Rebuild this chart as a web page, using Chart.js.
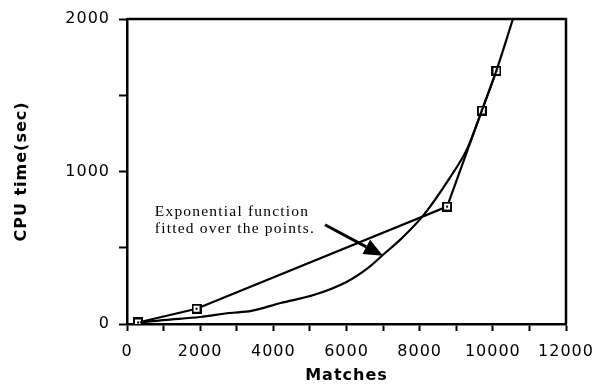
<!DOCTYPE html>
<html>
<head>
<meta charset="utf-8">
<script src="https://cdn.jsdelivr.net/npm/chart.js@4/dist/chart.umd.min.js"></script>
<style>
  html, body { margin: 0; padding: 0; background: #fff; }
  #wrap { width: 596px; height: 385px; }
</style>
</head>
<body>
<div id="wrap"><canvas id="cpuChart" width="596" height="385"></canvas></div>
<script>
// measured points (squares)
const matches = [300, 1900, 8750, 9700, 10100];
const cpuTime = [10, 100, 770, 1400, 1660];

// exponential fit
const fitMatches = [350, 1000, 2000, 2800, 3400, 4200, 5100, 6000, 6600, 7000, 7500, 8100, 8800, 9300, 9700, 10100, 10550];
const fitCpu     = [10, 26, 46, 72, 86, 138, 190, 276, 370, 454, 560, 712, 950, 1150, 1400, 1664, 2000];

// axis setup
const xMax = 12000, xStep = 1000, xLabelEvery = 2000;
const yMax = 2000, yStep = 500, yLabelEvery = 1000;

// annotation (data coordinates)
const noteLines = ['Exponential function', 'fitted over the points.'];
const noteAt = [760, 711];
const arrowFrom = [5412, 651];
const arrowTo = [6998, 447];

// square marker with a dot in the middle
function squareMarker() {
  const c = document.createElement('canvas');
  c.width = 10; c.height = 10;
  const g = c.getContext('2d');
  g.fillStyle = '#000'; g.fillRect(0, 0, 10, 10);
  g.fillStyle = '#fff'; g.fillRect(2, 2, 6, 6);
  g.fillStyle = '#000'; g.fillRect(4, 4, 2, 2);
  return c;
}

const textPlugin = {
  id: 'spacing',
  beforeLayout(chart) { chart.ctx.letterSpacing = '1px'; },
  beforeDraw(chart) { chart.ctx.letterSpacing = '1px'; },
  afterDraw(chart) {
    const { ctx, chartArea: a, scales: { x, y } } = chart;
    ctx.save();
    // top and right frame
    ctx.strokeStyle = '#000';
    ctx.lineWidth = 2.5;
    ctx.beginPath();
    ctx.moveTo(a.left, a.top);
    ctx.lineTo(a.right, a.top);
    ctx.lineTo(a.right, a.bottom);
    ctx.stroke();

    // note text
    ctx.letterSpacing = '1.2px';
    ctx.font = '15.5px "Liberation Serif", "Times New Roman", serif';
    ctx.fillStyle = '#000';
    ctx.textBaseline = 'alphabetic';
    ctx.textAlign = 'left';
    const nx = x.getPixelForValue(noteAt[0]);
    const ny = y.getPixelForValue(noteAt[1]);
    noteLines.forEach((t, i) => ctx.fillText(t, nx, ny + i * 17));

    // arrow
    const x0 = x.getPixelForValue(arrowFrom[0]), y0 = y.getPixelForValue(arrowFrom[1]);
    const x1 = x.getPixelForValue(arrowTo[0]), y1 = y.getPixelForValue(arrowTo[1]);
    const ang = Math.atan2(y1 - y0, x1 - x0);
    const headLen = 19, headW = 8;
    const bx = x1 - headLen * Math.cos(ang), by = y1 - headLen * Math.sin(ang);
    ctx.lineWidth = 3;
    ctx.beginPath();
    ctx.moveTo(x0, y0);
    ctx.lineTo(bx, by);
    ctx.stroke();
    ctx.beginPath();
    ctx.moveTo(x1, y1);
    ctx.lineTo(bx + headW * Math.sin(ang), by - headW * Math.cos(ang));
    ctx.lineTo(bx - headW * Math.sin(ang), by + headW * Math.cos(ang));
    ctx.closePath();
    ctx.fill();
    ctx.restore();
  }
};

const axisFont = { family: '"DejaVu Sans", sans-serif', size: 16 };
const titleFont = { family: '"DejaVu Sans", sans-serif', size: 16, weight: 'bold' };

new Chart(document.getElementById('cpuChart'), {
  type: 'line',
  data: {
    datasets: [
      {
        label: 'fit',
        data: fitMatches.map((m, i) => ({ x: m, y: fitCpu[i] })),
        borderColor: '#000',
        borderWidth: 2.2,
        pointRadius: 0,
        cubicInterpolationMode: 'monotone',
        fill: false
      },
      {
        label: 'measured',
        data: matches.map((m, i) => ({ x: m, y: cpuTime[i] })),
        borderColor: '#000',
        borderWidth: 2.2,
        tension: 0,
        pointStyle: squareMarker(),
        pointRadius: 5,
        fill: false
      }
    ]
  },
  options: {
    responsive: false,
    devicePixelRatio: 1,
    animation: false,
    layout: { padding: { top: 19, right: 30, left: 0, bottom: 0 } },
    plugins: { legend: { display: false }, tooltip: { enabled: false } },
    scales: {
      x: {
        type: 'linear',
        min: 0,
        max: xMax,
        afterFit: s => { s.height = 61; s.paddingLeft = 0; s.paddingRight = 0; },
        border: { display: true, color: '#000', width: 2.5 },
        grid: { drawOnChartArea: false, drawTicks: true, tickLength: 7, tickColor: '#000', tickWidth: 2 },
        ticks: {
          stepSize: xStep,
          autoSkip: false,
          maxRotation: 0,
          color: '#000',
          font: axisFont,
          padding: 11,
          callback: v => (v % xLabelEvery === 0 ? String(v) : '')
        },
        title: { display: true, text: 'Matches', color: '#000', font: titleFont, padding: { top: 4, bottom: 0 } }
      },
      y: {
        min: 0,
        max: yMax,
        afterFit: s => { s.width = 127; s.paddingTop = 0; s.paddingBottom = 0; },
        border: { display: true, color: '#000', width: 2.5 },
        grid: { drawOnChartArea: false, drawTicks: true, tickLength: 8, tickColor: '#000', tickWidth: 2 },
        ticks: {
          stepSize: yStep,
          autoSkip: false,
          color: '#000',
          font: axisFont,
          padding: 9,
          callback: v => (v % yLabelEvery === 0 ? String(v) : '')
        },
        title: { display: true, text: 'CPU time(sec)', color: '#000', font: titleFont, padding: { top: 12, bottom: 0 } }
      }
    }
  },
  plugins: [textPlugin]
});
</script>
</body>
</html>
